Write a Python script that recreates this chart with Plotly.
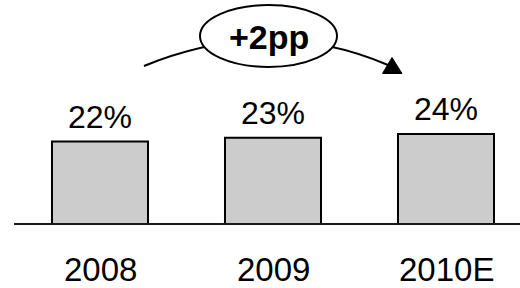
import plotly.graph_objects as go

categories = ["2008", "2009", "2010E"]
values = [22, 23, 24]
value_labels = ["22%", "23%", "24%"]
change_label = "+2pp"

W, H = 520, 288
# axis mapping (pixel geometry of the layout)
X0_PX, X_STEP_PX = 100.0, 173.0
BASE_PX, Y_SCALE = 224.0, 3.75

def dx(px):
    return (px - X0_PX) / X_STEP_PX

def dy(py):
    return (BASE_PX - py) / Y_SCALE

xs = list(range(len(categories)))
FONT = "Arial, Liberation Sans, sans-serif"

fig = go.Figure()
fig.add_trace(go.Bar(
    x=xs, y=values, width=0.555,
    marker=dict(color="#cccccc", line=dict(color="#000000", width=2)),
    hoverinfo="skip",
))

annotations = []
for i, (v, t) in enumerate(zip(values, value_labels)):
    annotations.append(dict(x=i, y=v, xref="x", yref="y", text=t, showarrow=False,
                            yanchor="middle", yshift=25,
                            font=dict(family=FONT, size=32, color="#000000")))
for i, c in enumerate(categories):
    annotations.append(dict(x=i, y=0, xref="x", yref="y", text=c, showarrow=False,
                            yanchor="middle", yshift=-45,
                            font=dict(family=FONT, size=33, color="#000000")))
annotations.append(dict(x=dx(268.5), y=dy(37), xref="x", yref="y", text="<b>" + change_label + "</b>",
                        showarrow=False, yanchor="middle",
                        font=dict(family=FONT, size=34, color="#000000")))

p0, p1, p2 = (144, 66), (270, 14.5), (388, 65)
arc = "M {} {} Q {} {} {} {}".format(dx(p0[0]), dy(p0[1]), dx(p1[0]), dy(p1[1]), dx(p2[0]), dy(p2[1]))
tri = "M {} {} L {} {} L {} {} Z".format(dx(402), dy(73.5), dx(382.5), dy(73.5), dx(392), dy(57.5))

shapes = [
    dict(type="line", xref="x", yref="y", x0=dx(14), x1=dx(521), y0=0, y1=0,
         line=dict(color="#1a1a1a", width=2), layer="above"),
    dict(type="path", xref="x", yref="y", path=arc, line=dict(color="#000000", width=2)),
    dict(type="path", xref="x", yref="y", path=tri, fillcolor="#000000",
         line=dict(color="#000000", width=1)),
    dict(type="circle", xref="x", yref="y", x0=dx(200), x1=dx(337), y0=dy(67), y1=dy(5),
         fillcolor="#ffffff", line=dict(color="#000000", width=2)),
]

fig.update_layout(
    width=W, height=H,
    margin=dict(l=0, r=0, t=0, b=0),
    paper_bgcolor="#ffffff", plot_bgcolor="#ffffff",
    showlegend=False,
    xaxis=dict(range=[dx(0), dx(W)], visible=False, fixedrange=True),
    yaxis=dict(range=[dy(H), dy(0)], visible=False, fixedrange=True),
    annotations=annotations, shapes=shapes,
)

fig.write_html("out.html", config={"displayModeBar": False},
               post_script="document.body.style.margin='0';document.body.style.overflow='hidden';")
